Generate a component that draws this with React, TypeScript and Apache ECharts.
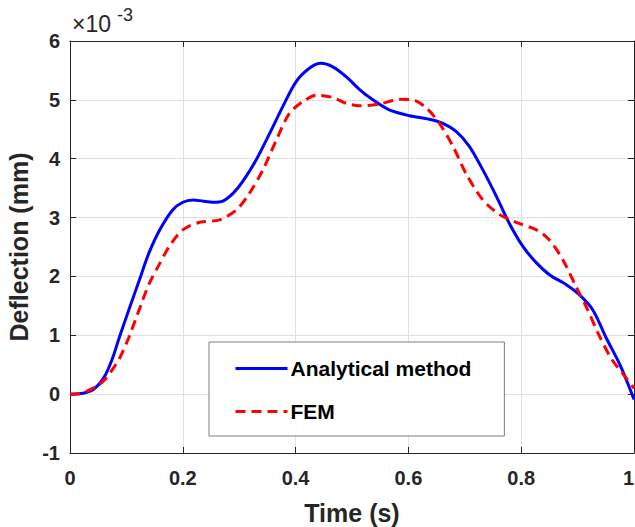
import React, { useEffect, useRef } from "react";
import * as echarts from "echarts";

// Time (s)
const tAnalytical = [0, 0.02, 0.04, 0.06, 0.075, 0.088, 0.105, 0.123, 0.14, 0.159, 0.182, 0.2, 0.218, 0.235, 0.253, 0.271, 0.289, 0.306, 0.33, 0.354, 0.377, 0.401, 0.425, 0.445, 0.466, 0.49, 0.513, 0.537, 0.566, 0.602, 0.637, 0.661, 0.685, 0.708, 0.732, 0.756, 0.779, 0.803, 0.827, 0.85, 0.88, 0.903, 0.927, 0.951, 0.975, 1.0];
// Deflection (×10^-3 mm)
const vAnalytical = [0, 0.01, 0.07, 0.28, 0.6, 0.98, 1.45, 1.94, 2.4, 2.79, 3.13, 3.26, 3.3, 3.28, 3.26, 3.28, 3.41, 3.61, 3.98, 4.43, 4.88, 5.31, 5.54, 5.62, 5.56, 5.39, 5.18, 5.0, 4.83, 4.73, 4.67, 4.6, 4.46, 4.21, 3.81, 3.36, 2.9, 2.51, 2.23, 2.03, 1.86, 1.69, 1.43, 0.95, 0.5, -0.09];

const tFEM = [0, 0.02, 0.032, 0.05, 0.064, 0.076, 0.088, 0.105, 0.129, 0.141, 0.158, 0.176, 0.2, 0.23, 0.265, 0.295, 0.318, 0.342, 0.366, 0.389, 0.413, 0.437, 0.466, 0.49, 0.513, 0.549, 0.584, 0.608, 0.632, 0.655, 0.679, 0.702, 0.732, 0.762, 0.791, 0.827, 0.85, 0.874, 0.897, 0.918, 0.936, 0.96, 0.98, 1.0];
const vFEM = [0, 0.01, 0.06, 0.15, 0.27, 0.43, 0.61, 0.98, 1.6, 1.89, 2.2, 2.51, 2.79, 2.92, 2.96, 3.13, 3.41, 3.81, 4.32, 4.77, 4.97, 5.08, 5.04, 4.94, 4.9, 4.93, 5.01, 5.0, 4.86, 4.6, 4.21, 3.75, 3.3, 3.05, 2.92, 2.79, 2.62, 2.28, 1.83, 1.43, 1.04, 0.6, 0.35, 0.1];

const seriesNames = ["Analytical method", "FEM"];
const xTitle = "Time (s)";
const yTitle = "Deflection (mm)";
const exponentBase = "×10";
const exponentPower = "-3";

const FONT = '"Liberation Sans", Arial, Helvetica, sans-serif';
const AXIS_COLOR = "#262626";
const DASH = [10, 6];

export default function App() {
  const ref = useRef<HTMLDivElement>(null);
  useEffect(() => {
    if (!ref.current) return;
    const chart = echarts.init(ref.current, null, { renderer: "svg" });
    const zip = (t: number[], v: number[]) => t.map((x, i) => [x, v[i]]);
    const axisCommon = {
      axisLine: { show: true, onZero: false, lineStyle: { color: AXIS_COLOR, width: 1 } },
      axisTick: { show: true, inside: true, length: 6, lineStyle: { color: AXIS_COLOR } },
    };
    chart.setOption({
      animation: false,
      backgroundColor: "#ffffff",
      grid: { left: 70, right: 1, top: 41, bottom: 74, containLabel: false, outerBoundsMode: "none" },
      xAxis: [
        {
          type: "value",
          min: 0,
          max: 1,
          interval: 0.2,
          ...axisCommon,
          splitLine: { show: true, lineStyle: { color: "#e0e0e0", width: 1 } },
          axisLabel: {
            color: AXIS_COLOR,
            fontFamily: FONT,
            fontWeight: "bold",
            fontSize: 20,
            margin: 15,
            alignMaxLabel: "right",
            formatter: (v: number) => String(+v.toFixed(1)),
          },
          name: xTitle,
          nameLocation: "middle",
          nameGap: 47,
          nameTextStyle: { color: AXIS_COLOR, fontFamily: FONT, fontWeight: "bold", fontSize: 25 },
        },
        {
          type: "value",
          position: "top",
          min: 0,
          max: 1,
          interval: 0.2,
          ...axisCommon,
          splitLine: { show: false },
          axisLabel: { show: false },
        },
      ],
      yAxis: [
        {
          type: "value",
          min: -1,
          max: 6,
          interval: 1,
          ...axisCommon,
          splitLine: { show: true, lineStyle: { color: "#e0e0e0", width: 1 } },
          axisLabel: {
            color: AXIS_COLOR,
            fontFamily: FONT,
            fontWeight: "bold",
            fontSize: 20,
            margin: 10,
          },
          name: yTitle,
          nameLocation: "middle",
          nameGap: 28,
          nameTextStyle: { color: AXIS_COLOR, fontFamily: FONT, fontWeight: "bold", fontSize: 25 },
        },
        {
          type: "value",
          position: "right",
          min: -1,
          max: 6,
          interval: 1,
          ...axisCommon,
          splitLine: { show: false },
          axisLabel: { show: false },
        },
      ],
      legend: {
        orient: "vertical",
        left: 209,
        top: 342,
        padding: [16, 33, 14, 25],
        itemGap: 22,
        itemWidth: 52,
        itemHeight: 20,
        backgroundColor: "#ffffff",
        borderColor: "#7f7f7f",
        borderWidth: 1,
        itemStyle: { opacity: 0 },
        data: [
          { name: seriesNames[0], lineStyle: { color: "#0000ff", width: 3, type: "solid" } },
          { name: seriesNames[1], lineStyle: { color: "#ff0000", width: 3, type: DASH } },
        ],
        textStyle: { color: "#000000", fontFamily: FONT, fontWeight: "bold", fontSize: 21, padding: [0, 0, 0, -2] },
      },
      graphic: [
        {
          type: "text",
          left: 72,
          top: 12,
          style: { text: exponentBase, fill: AXIS_COLOR, font: `23px ${FONT}` },
        },
        {
          type: "text",
          left: 117,
          top: 6,
          style: { text: exponentPower, fill: AXIS_COLOR, font: `18px ${FONT}` },
        },
      ],
      series: [
        {
          name: seriesNames[0],
          type: "line",
          data: zip(tAnalytical, vAnalytical),
          smooth: 0.3,
          symbol: "none",
          lineStyle: { color: "#0000ff", width: 3 },
          itemStyle: { color: "#0000ff" },
          z: 2,
        },
        {
          name: seriesNames[1],
          type: "line",
          data: zip(tFEM, vFEM),
          smooth: 0.3,
          symbol: "none",
          lineStyle: { color: "#ff0000", width: 3, type: DASH },
          itemStyle: { color: "#ff0000" },
          z: 3,
        },
      ],
    });
    return () => chart.dispose();
  }, []);
  return (
    <div
      ref={ref}
      style={{ position: "fixed", left: 0, top: 0, width: 635, height: 527, background: "#fff" }}
    />
  );
}
